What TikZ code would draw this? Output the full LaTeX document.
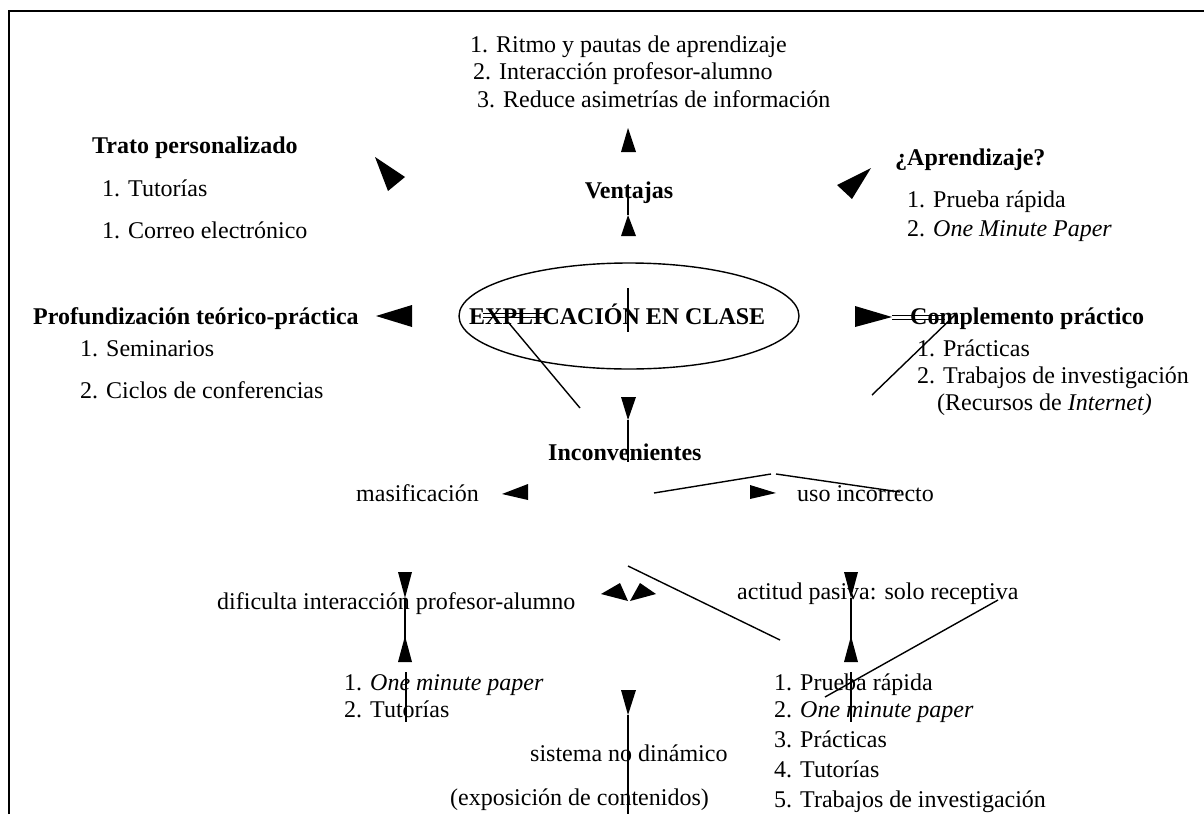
\documentclass[tikz,border=0pt]{standalone}
\usepackage{fontspec}
\setmainfont{Liberation Serif}
\begin{document}
\begin{tikzpicture}[x=1pt,y=-1pt,
  txt/.style={inner sep=0pt, anchor=base west, font=\fontsize{24}{28}\selectfont},
  btxt/.style={txt, font=\fontsize{24}{28}\selectfont\bfseries},
  ln/.style={line width=1.4pt},
  frame/.style={line width=2pt},
  tri/.style={fill=black}]
\useasboundingbox (0,0) rectangle (1204,814);
\draw[frame] (9,814) -- (9,11) -- (1204,11);

% top list
\node[txt] (v1) at (470,52) {1. Ritmo y pautas de aprendizaje};
\node[txt] (v2) at (473,79) {2. Interacción profesor-alumno};
\node[txt] (v3) at (477,107) {3. Reduce asimetrías de información};

% left upper block
\node[btxt] (tp) at (92,153) {Trato personalizado};
\node[txt] (tp1) at (102,196) {1. Tutorías};
\node[txt] (tp2) at (102,238) {1. Correo electrónico};

% right upper block
\node[btxt] (ap) at (895,165) {¿Aprendizaje?};
\node[txt] (ap1) at (907,207) {1. Prueba rápida};
\node[txt] (ap2) at (907,236) {2. \textit{One Minute Paper}};

% Ventajas
\node[btxt, anchor=base] (ve) at (629,198) {Ventajas};

% centre
\draw[ln] (629,316) ellipse [x radius=170, y radius=53];
\node[btxt] (ex) at (469,324) {EXPLICACIÓN EN CLASE};
\node[btxt] (pf) at (33,324) {Profundización teórico-práctica};
\node[txt] (pf1) at (80,356) {1. Seminarios};
\node[txt] (pf2) at (80,398) {2. Ciclos de conferencias};
\node[btxt] (cp) at (910,324) {Complemento práctico};
\node[txt] (cp1) at (917,356) {1. Prácticas};
\node[txt] (cp2) at (917,383) {2. Trabajos de investigación};
\node[txt] (cp3) at (937,410) {(Recursos de \textit{Internet)}};

% lower
\node[btxt] (in) at (548,460) {Inconvenientes};
\node[txt] (ma) at (356,501) {masificación};
\node[txt] (us) at (797,501) {uso incorrecto};
\node[txt] (di) at (217,609) {dificulta interacción profesor-alumno};
\node[txt] (ac) at (737,599) {actitud pasiva: solo receptiva};
\node[txt] (l1) at (344,690) {1. \textit{One minute paper}};
\node[txt] (l2) at (344,717) {2. Tutorías};
\node[txt] (r1) at (774,690) {1. Prueba rápida};
\node[txt] (r2) at (774,717) {2. \textit{One minute paper}};
\node[txt] (r3) at (774,747) {3. Prácticas};
\node[txt] (r4) at (774,777) {4. Tutorías};
\node[txt] (r5) at (774,807) {5. Trabajos de investigación};
\node[txt] (s1) at (530,761) {sistema no dinámico};
\node[txt] (s2) at (450,805) {(exposición de contenidos)};

% arrowheads
\fill[tri] (628,128) -- (636,152) -- (621,152) -- cycle;
\fill[tri] (628,215) -- (636,236) -- (621,236) -- cycle;
\fill[tri] (375,157) -- (405,177) -- (388,191) -- cycle;
\fill[tri] (837,185) -- (871,168) -- (852,199) -- cycle;
\fill[tri] (376,316) -- (412,305) -- (412,327) -- cycle;
\fill[tri] (892,317) -- (855,306) -- (855,327) -- cycle;
\fill[tri] (621,397) -- (636,397) -- (628,420) -- cycle;
\fill[tri] (502,494) -- (528,484) -- (528,500) -- cycle;
\fill[tri] (750,485) -- (776,493) -- (750,499) -- cycle;
\fill[tri] (398,572) -- (412,572) -- (405,598) -- cycle;
\fill[tri] (844,572) -- (858,572) -- (851,598) -- cycle;
\fill[tri] (405,636) -- (412,662) -- (398,662) -- cycle;
\fill[tri] (851,636) -- (858,662) -- (844,662) -- cycle;
\fill[tri] (601,594) -- (620,583) -- (628,601) -- cycle;
\fill[tri] (630,601) -- (640,583) -- (656,594) -- cycle;
\fill[tri] (621,690) -- (636,690) -- (628,715) -- cycle;

% stray lines
\draw[ln] (628,193) -- (628,215);
\draw[ln] (628,288) -- (628,332);
\draw[line width=1pt] (483,313) -- (547,313) (483,317) -- (547,317);
\draw[line width=1pt] (892,315) -- (945,315) (892,319) -- (945,319);
\draw[ln] (508,322) -- (580,408);
\draw[ln] (872,395) -- (957,313);
\draw[ln] (628,420) -- (628,462);
\draw[ln] (654,493) -- (771,474);
\draw[ln] (776,474) -- (900,492);
\draw[ln] (405,598) -- (405,640);
\draw[ln] (851,598) -- (851,640);
\draw[ln] (628,566) -- (780,640);
\draw[ln] (825,697) -- (998,600);
\draw[ln] (406,672) -- (406,722);
\draw[ln] (851,672) -- (851,722);
\draw[ln] (628,715) -- (628,814);
\end{tikzpicture}
\end{document}
